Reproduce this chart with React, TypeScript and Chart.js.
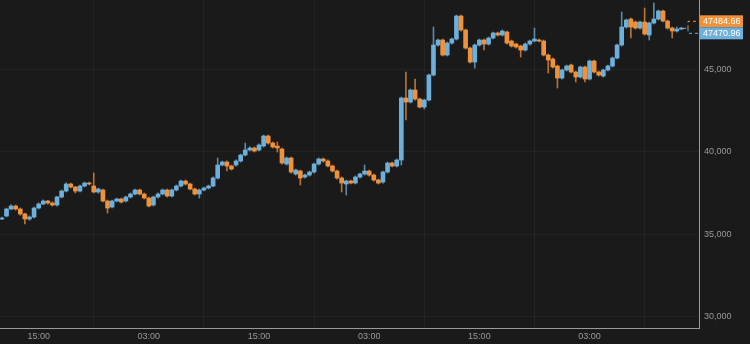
import { useEffect, useRef } from 'react';
import { Chart, registerables } from 'chart.js';

Chart.register(...registerables);

// ---- data: 30-minute candles, hour 0 = first 15:00 on the axis ----
const firstCandleHour = -4;
const candleStepHours = 0.5;

const opens = [
  35921, 36102, 36527, 36708, 36527, 36224, 35921, 36042, 36587, 36830,
  37011, 36890, 36769, 37254, 37617, 38042, 37860, 37617, 37920, 38102,
  37920, 37557, 37678, 37011, 36648, 37011, 37133, 37011, 37254, 37436,
  37678, 37436, 37193, 36769, 37254, 37436, 37678, 37314, 37678, 37920,
  38223, 38042, 37739, 37436, 37678, 37799, 37920, 38405, 39193, 39375,
  39132, 39193, 39435, 39799, 40102, 40223, 40102, 40344, 40950, 40526,
  40344, 40160, 39254, 39617, 38648, 38829, 38466, 38587, 38769, 39254,
  39557, 39435, 39132, 38829, 38405, 38042, 38223, 38102, 38466, 38648,
  38829, 38587, 38284, 38163, 38769, 39314, 39132, 39496, 43253, 43011,
  43738, 43193, 42708, 43132, 44647, 46465, 46768, 45859, 46586, 46829,
  48222, 47374, 46283, 45435, 46465, 46768, 46526, 46889, 47192, 47071,
  47253, 46707, 46526, 46404, 46162, 46526, 46707, 46768, 46707, 45859,
  45617, 45192, 44465, 44950, 45253, 44829, 44526, 45132, 44405, 45495,
  44829, 44586, 44950, 45192, 45677, 46465, 47556, 48041, 47859, 47495,
  47859, 47071, 47798, 48041, 48525, 47919, 47495, 47313, 47430,
];

const highs = [
  36040, 36580, 36800, 36770, 36590, 36280, 36110, 36640, 36900, 37080,
  37060, 36960, 37300, 37680, 38120, 38100, 37900, 37980, 38160, 38160,
  38708, 37800, 37740, 37070, 37070, 37190, 37190, 37310, 37500, 37740,
  37740, 37500, 37250, 37310, 37500, 37740, 37740, 37740, 37980, 38280,
  38280, 38100, 37800, 37740, 37860, 37980, 38470, 39617, 39440, 39440,
  39190, 39500, 39860, 40526, 40290, 40290, 40470, 41010, 41010, 40590,
  40587, 40220, 39680, 39680, 38950, 38890, 38650, 38830, 39310, 39620,
  39620, 39500, 39190, 38890, 38470, 38280, 38280, 38530, 38710, 39193,
  38890, 38650, 38340, 38830, 39370, 39370, 39560, 43310, 44829, 43800,
  44405, 43250, 43190, 44710, 47556, 46830, 46830, 46650, 46890, 48283,
  48283, 47430, 46340, 46530, 46830, 46830, 46950, 47250, 47250, 47374,
  47310, 46770, 46590, 46460, 46590, 46770, 47495, 46830, 46770, 45920,
  45680, 45250, 45010, 45250, 45310, 44890, 45190, 45190, 45556, 45556,
  44890, 45010, 45250, 45738, 46530, 48465, 48041, 48100, 47919, 47919,
  48707, 47859, 49010, 48586, 48586, 47980, 47556, 47560, 47540,
];

const lows = [
  35880, 36050, 36480, 36460, 36150, 35618, 35840, 35980, 36530, 36780,
  36820, 36700, 36700, 37200, 37560, 37800, 37500, 37560, 37860, 37980,
  37500, 37480, 36950, 36284, 36590, 36950, 36890, 36950, 37190, 37380,
  37380, 37130, 36650, 36700, 37190, 37380, 37250, 37250, 37620, 37860,
  37980, 37680, 37375, 37190, 37620, 37740, 37860, 38340, 39130, 38829,
  38890, 39130, 39370, 39740, 40040, 39980, 40040, 40280, 40460, 40220,
  39980, 39250, 39190, 38700, 38580, 37981, 38400, 38520, 38700, 39190,
  39370, 39070, 38770, 38340, 37557, 37375, 38040, 38040, 38400, 38580,
  38520, 38220, 38040, 38100, 38700, 39070, 39070, 39193, 41920, 42950,
  43130, 42650, 42590, 43070, 44590, 46400, 45800, 45800, 46520, 46770,
  47310, 46220, 45370, 45071, 46400, 46162, 46460, 46830, 47010, 47010,
  46520, 46340, 46280, 45738, 46100, 46460, 46650, 46650, 45800, 44768,
  45070, 43859, 44400, 44890, 44770, 44223, 44460, 44223, 44340, 44770,
  44580, 44520, 44890, 45130, 45617, 46400, 47495, 46889, 47430, 47430,
  47071, 46768, 47740, 47980, 47859, 47430, 46889, 47250, 47400,
];

const closes = [
  35981, 36527, 36708, 36527, 36224, 35921, 36042, 36587, 36830, 37011,
  36890, 36769, 37254, 37617, 38042, 37860, 37617, 37920, 38102, 38042,
  37557, 37739, 37011, 36587, 37011, 37133, 36950, 37254, 37436, 37678,
  37436, 37193, 36708, 37254, 37436, 37678, 37314, 37678, 37920, 38223,
  38042, 37739, 37436, 37678, 37799, 37920, 38405, 39193, 39375, 39132,
  38951, 39435, 39799, 40102, 40223, 40041, 40405, 40950, 40526, 40284,
  40223, 39314, 39617, 38769, 38890, 38405, 38587, 38769, 39254, 39557,
  39435, 39132, 38829, 38405, 38102, 38223, 38102, 38466, 38648, 38829,
  38587, 38284, 38102, 38769, 39314, 39132, 39496, 43253, 43011, 43738,
  43193, 42708, 43132, 44647, 46465, 46768, 45859, 46586, 46829, 48222,
  47374, 46283, 45435, 46465, 46768, 46526, 46889, 47192, 47071, 47313,
  46586, 46404, 46344, 46162, 46526, 46707, 46829, 46707, 45859, 45556,
  45132, 44465, 44950, 45192, 44829, 44526, 45132, 44405, 45495, 44829,
  44647, 44950, 45192, 45677, 46465, 47556, 47980, 47556, 47495, 47859,
  47132, 47798, 48041, 48525, 47919, 47495, 47313, 47430, 47484.66,
];

const askPrice = 47484.66;
const bidPrice = 47470.96;

const xTickHours = [0, 12, 24, 36, 48, 60];
const xTickLabels = ['15:00', '03:00', '15:00', '03:00', '15:00', '03:00'];
const yTickValues = [30000, 35000, 40000, 45000];

const BG = '#1a1a1a';
const BLUE = '#6db0dc';
const ORANGE = '#ef923b';
const BLUE_WICK = 'rgba(109,176,220,0.75)';
const ORANGE_WICK = 'rgba(239,146,59,0.75)';
const FONT = '"Liberation Sans", Arial, Helvetica, sans-serif';

const zeroPad = (s: any) => {
  s.paddingTop = 0;
  s.paddingBottom = 0;
  s.paddingLeft = 0;
  s.paddingRight = 0;
};

export default function App() {
  const ref = useRef<HTMLCanvasElement>(null);

  useEffect(() => {
    document.body.style.margin = '0';
    document.body.style.background = BG;
    const times = closes.map((_, i) => firstCandleHour + i * candleStepHours);
    const up = closes.map((c, i) => c >= opens[i]);

    const bgPlugin = {
      id: 'bg',
      beforeDraw(chart: any) {
        const c = chart.ctx;
        c.save();
        c.fillStyle = BG;
        c.fillRect(0, 0, chart.width, chart.height);
        c.restore();
      },
    };

    const pricePlugin = {
      id: 'priceTags',
      afterDraw(chart: any) {
        const c = chart.ctx;
        const ys = chart.scales.y;
        const xs = chart.scales.x;
        const area = chart.chartArea;
        const mid = ys.getPixelForValue((askPrice + bidPrice) / 2);
        const lastX = xs.getPixelForValue(times[times.length - 1]) + 2;
        const bx = area.right + 1;
        const elbow = bx - 12;
        const askY = mid - 7;
        const bidY = mid + 5;
        c.save();
        c.lineWidth = 1;
        c.setLineDash([3, 3]);
        c.strokeStyle = BLUE;
        c.beginPath();
        c.moveTo(lastX, mid);
        c.lineTo(elbow, mid);
        c.stroke();
        c.strokeStyle = ORANGE;
        c.beginPath();
        c.moveTo(elbow, mid);
        c.lineTo(elbow, askY);
        c.lineTo(bx, askY);
        c.stroke();
        c.strokeStyle = BLUE;
        c.beginPath();
        c.moveTo(elbow, mid);
        c.lineTo(elbow, bidY);
        c.lineTo(bx, bidY);
        c.stroke();
        c.setLineDash([]);
        c.fillStyle = ORANGE;
        c.fillRect(bx, askY - 6, 43, 12);
        c.fillStyle = BLUE;
        c.fillRect(bx, bidY - 6, 43, 12);
        c.fillStyle = '#ffffff';
        c.font = `9px ${FONT}`;
        c.textBaseline = 'middle';
        c.textAlign = 'left';
        c.fillText(askPrice.toFixed(2), bx + 3, askY + 0.5);
        c.fillText(bidPrice.toFixed(2), bx + 3, bidY + 0.5);
        c.restore();
      },
    };

    const chart = new Chart(ref.current!, {
      type: 'bar',
      data: {
        datasets: [
          {
            label: 'body',
            data: times.map((t, i) => ({ x: t, y: [opens[i], closes[i]] })) as any,
            backgroundColor: up.map((u) => (u ? BLUE : ORANGE)),
            barThickness: 4,
            grouped: false,
            minBarLength: 1,
            borderWidth: 0,
          },
          {
            label: 'wick',
            data: times.map((t, i) => ({ x: t, y: [lows[i], highs[i]] })) as any,
            backgroundColor: up.map((u) => (u ? BLUE_WICK : ORANGE_WICK)),
            barThickness: 1,
            grouped: false,
            borderWidth: 0,
          },
        ],
      },
      options: {
        animation: false,
        responsive: false,
        devicePixelRatio: 1,
        layout: { padding: 0, autoPadding: false },
        plugins: {
          legend: { display: false },
          title: { display: false },
          tooltip: { enabled: false },
        },
        scales: {
          x: {
            type: 'linear',
            min: -4.21,
            max: 71.92,
            offset: false,
            afterFit: (s: any) => {
              s.height = 16;
              zeroPad(s);
            },
            afterBuildTicks: (s: any) => {
              s.ticks = xTickHours.map((v) => ({ value: v }));
            },
            ticks: {
              autoSkip: false,
              maxRotation: 0,
              padding: 3,
              color: '#9a9a9a',
              font: { family: FONT, size: 9 },
              callback: (_v: any, i: number) => xTickLabels[i],
            },
            grid: { color: 'rgba(255,255,255,0.045)', drawTicks: false },
            border: { color: '#999999', width: 1 },
          },
          y: {
            type: 'linear',
            position: 'right',
            min: 29315,
            max: 49194,
            afterFit: (s: any) => {
              s.width = 51;
              zeroPad(s);
            },
            afterBuildTicks: (s: any) => {
              s.ticks = yTickValues.map((v) => ({ value: v }));
            },
            ticks: {
              padding: 5,
              color: '#9a9a9a',
              font: { family: FONT, size: 9 },
              callback: (v: any) => Number(v).toLocaleString('en-US'),
            },
            grid: { color: 'rgba(255,255,255,0.045)', drawTicks: false },
            border: { color: '#999999', width: 1 },
          },
        },
      } as any,
      plugins: [bgPlugin, pricePlugin],
    });
    return () => chart.destroy();
  }, []);

  return (
    <div style={{ width: 750, height: 344, background: BG }}>
      <canvas ref={ref} width={750} height={344} style={{ display: 'block' }} />
    </div>
  );
}
